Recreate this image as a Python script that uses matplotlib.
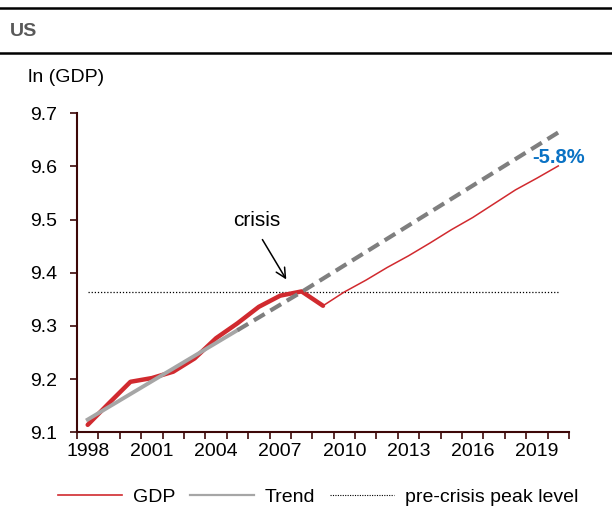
import matplotlib
matplotlib.use("Agg")
import matplotlib.pyplot as plt
from matplotlib.lines import Line2D

plt.rcParams["font.family"] = ["Liberation Sans", "DejaVu Sans"]

# ---------- data ----------
years = [1998, 1999, 2000, 2001, 2002, 2003, 2004, 2005, 2006, 2007, 2008, 2009,
         2010, 2011, 2012, 2013, 2014, 2015, 2016, 2017, 2018, 2019, 2020]
gdp = [9.114, 9.155, 9.195, 9.202, 9.214, 9.239, 9.277, 9.305, 9.336, 9.357, 9.365, 9.338,
       9.364, 9.386, 9.410, 9.432, 9.456, 9.481, 9.504, 9.530, 9.556, 9.578, 9.601]
trend = [9.124, 9.148, 9.172, 9.196, 9.220, 9.244, 9.268, 9.292, 9.316, 9.340, 9.364, 9.389,
         9.414, 9.439, 9.464, 9.489, 9.514, 9.539, 9.564, 9.589, 9.614, 9.639, 9.664]
peak_level = 9.364
gap_label = "-5.8%"
crisis_year = 2008
trend_fit_end = 2005
label_years = [1998, 2001, 2004, 2007, 2010, 2013, 2016, 2019]

RED = "#d12a2f"
GREY = "#7f7f7f"
LIGHT_GREY = "#a6a6a6"
SPINE = "#3d0808"
FS = 14

idx = list(range(len(years)))
i_crisis = years.index(crisis_year) + 1   # GDP thick up to trough year
i_fit = years.index(trend_fit_end)

fig = plt.figure(figsize=(6.12, 5.17), dpi=100)
ax = fig.add_axes([77 / 612, 84.7 / 517, 492 / 612, 319 / 517])

# ---------- series ----------
ax.plot(idx[:i_crisis + 1], gdp[:i_crisis + 1], color=RED, lw=3.2, solid_capstyle="round", zorder=2)
ax.plot(idx[i_crisis:], gdp[i_crisis:], color=RED, lw=1.1, zorder=2)
ax.plot(idx[:i_fit + 1], trend[:i_fit + 1], color=LIGHT_GREY, lw=2.8, zorder=3)
ax.plot(idx[i_fit:], trend[i_fit:], color=GREY, lw=3.0, dashes=(3, 1.6), zorder=3)
ax.plot(idx, [peak_level] * len(idx), color="black", lw=0.9, linestyle=(0, (1, 1.5)), zorder=1)

# ---------- axes ----------
ax.set_xlim(-0.5, len(years) - 0.5)
ax.set_ylim(9.1, 9.7)
ax.set_yticks([9.1, 9.2, 9.3, 9.4, 9.5, 9.6, 9.7])
ax.set_yticklabels(["9.1", "9.2", "9.3", "9.4", "9.5", "9.6", "9.7"], fontsize=FS)
ax.set_xticks([years.index(y) for y in label_years])
ax.set_xticklabels([str(y) for y in label_years], fontsize=FS)
ax.set_xticks([i - 0.5 for i in range(len(years) + 1)], minor=True)
ax.tick_params(axis="x", which="major", length=0, pad=8)
ax.tick_params(axis="x", which="minor", length=5, width=1.2, color=SPINE, direction="out")
ax.tick_params(axis="y", length=5, width=1.2, color=SPINE, direction="out", pad=9)
for s in ("top", "right"):
    ax.spines[s].set_visible(False)
for s in ("left", "bottom"):
    ax.spines[s].set_color(SPINE)
    ax.spines[s].set_linewidth(1.5)

# ---------- annotations ----------
ax.text(7.9, 9.499, "crisis", fontsize=FS + 1, ha="center", va="center")
ax.annotate("", xy=(9.35, 9.383), xytext=(8.1, 9.467),
            arrowprops=dict(arrowstyle="->,head_length=0.7,head_width=0.35", color="black", lw=1.1))
ax.text(23.24, 9.616, gap_label, fontsize=FS + 0.5, fontweight="bold", color="#0a72c4",
        ha="right", va="center", clip_on=False)

# ---------- header ----------
fig.add_artist(Line2D([0, 1], [1 - 8 / 517] * 2, color="black", lw=1.8))
fig.add_artist(Line2D([0, 1], [1 - 53 / 517] * 2, color="black", lw=1.8))
fig.text(10 / 612, 1 - 32 / 517, "US", fontsize=FS, fontweight="bold", color="#595959", va="center")
fig.text(28 / 612, 1 - 78 / 517, "ln (GDP)", fontsize=FS, va="center")

# ---------- legend ----------
handles = [Line2D([], [], color=RED, lw=1.2),
           Line2D([], [], color=LIGHT_GREY, lw=1.6),
           Line2D([], [], color="black", lw=0.8, linestyle=(0, (1, 1.2)))]
fig.legend(handles, ["GDP", "Trend", "pre-crisis peak level"], loc="center",
           bbox_to_anchor=(318 / 612, 1 - 497 / 517), ncol=3, frameon=False, fontsize=FS,
           handlelength=3.3, handletextpad=0.55, columnspacing=0.75, borderpad=0)

fig.savefig("out.png", dpi=100)
